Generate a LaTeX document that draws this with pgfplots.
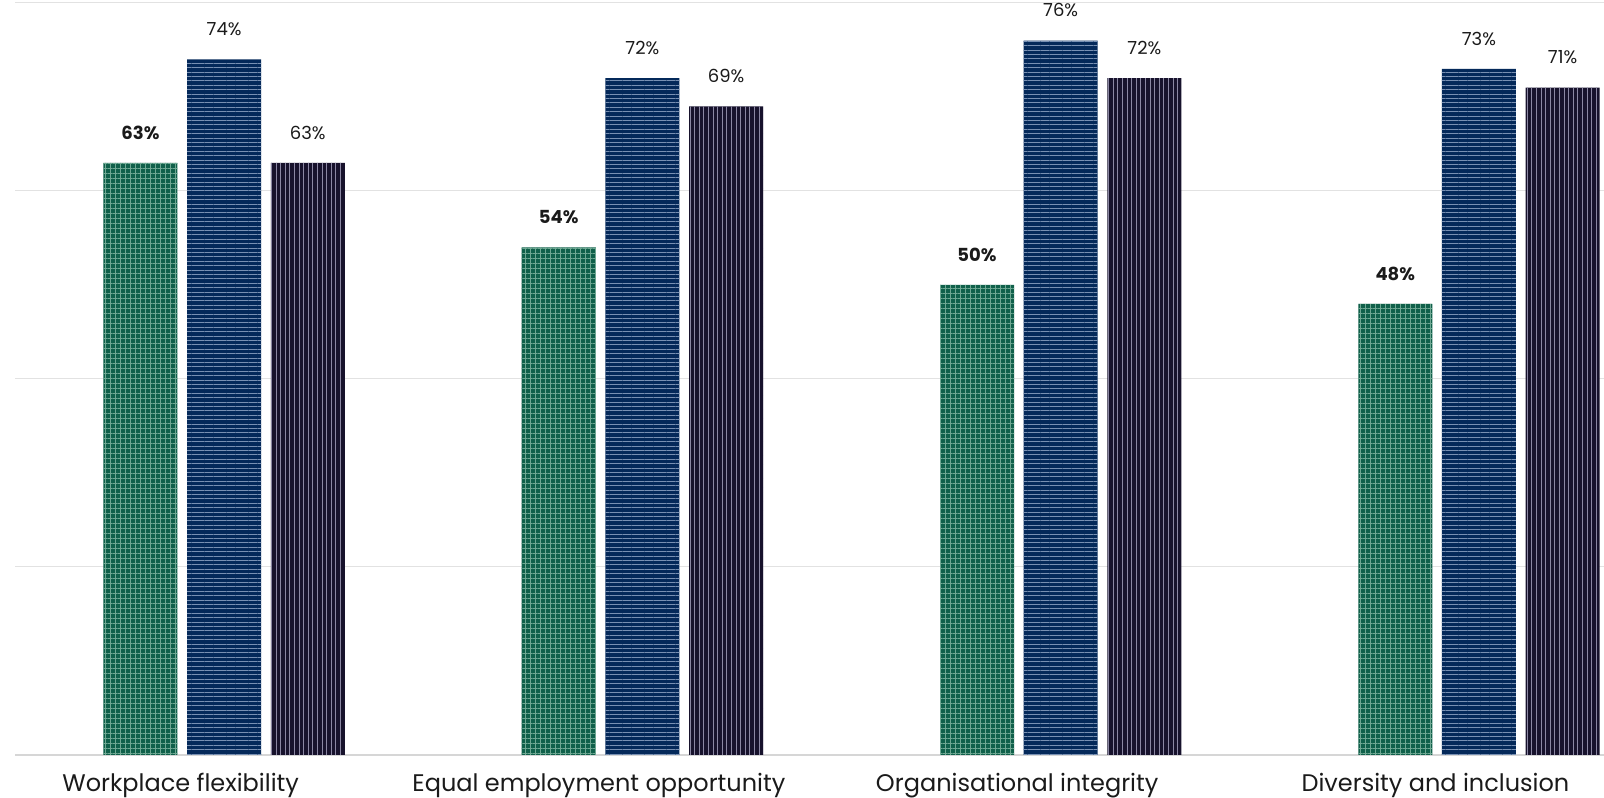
\documentclass[border=0pt]{standalone}
\usepackage{pgfplots}
\pgfplotsset{compat=1.18}
\usetikzlibrary{patterns.meta}
\usepackage{fontspec}
\setmainfont{Poppins}

\definecolor{grnbase}{HTML}{10604A}
\definecolor{grnline}{HTML}{6FA893}
\definecolor{blubase}{HTML}{04295A}
\definecolor{bluline}{HTML}{7890B3}
\definecolor{drkbase}{HTML}{17122C}
\definecolor{drkline}{HTML}{8B87A3}
\definecolor{gridgray}{HTML}{E2E2E2}
\definecolor{basegray}{HTML}{D6D6D6}
\definecolor{txt}{HTML}{1A1A1A}

\begin{document}
\begin{tikzpicture}
\begin{axis}[
  scale only axis,
  width=794.5pt, height=376pt,
  xmin=-0.5, xmax=3.299,
  ymin=0, ymax=80,
  axis y line*=left,
  y axis line style={draw=none},
  axis x line*=bottom,
  x axis line style={basegray, line width=1pt, -},
  ytick={0,20,40,60,80},
  yticklabels={},
  ymajorgrids,
  grid style={gridgray, line width=0.5pt},
  xtick={-0.104,0.896,1.896,2.896},
  xticklabels={Workplace flexibility, Equal employment opportunity, Organisational integrity, Diversity and inclusion},
  major tick length=0pt,
  xticklabel style={anchor=base, yshift=-18.3pt, inner sep=0pt, font=\fontsize{12}{14}\selectfont, text=txt},
  /pgf/number format/assume math mode=true,
  ybar,
  bar width=0.177,
  nodes near coords={\pgfmathprintnumber{\pgfplotspointmeta}\%},
  every node near coord/.append style={anchor=south, yshift=11.5pt, inner sep=0pt, text=txt, font=\fontsize{9}{10}\selectfont},
  clip=false,
]
% Green series: grid pattern, bold value labels
\addplot[bar shift=-0.2, draw=none, fill=grnbase,
  postaction={pattern={Hatch[angle=0, distance=2.5pt, line width=0.4pt]}, pattern color=grnline},
  every node near coord/.append style={font=\bfseries\fontsize{9}{10}\selectfont}]
  coordinates {(0,63) (1,54) (2,50) (3,48)};
% Navy series: horizontal lines
\addplot[bar shift=0, draw=none, fill=blubase,
  postaction={pattern={Lines[angle=0, distance=2.2pt, line width=0.4pt]}, pattern color=bluline}]
  coordinates {(0,74) (1,72) (2,76) (3,73)};
% Dark series: vertical lines
\addplot[bar shift=0.2, draw=none, fill=drkbase,
  postaction={pattern={Lines[angle=90, distance=2.3pt, line width=0.4pt]}, pattern color=drkline}]
  coordinates {(0,63) (1,69) (2,72) (3,71)};
\end{axis}
\pgfresetboundingbox
\useasboundingbox ([xshift=-7.5pt,yshift=-21.5pt]current axis.south west) rectangle ([yshift=1.5pt]current axis.north east);
\end{tikzpicture}
\end{document}
